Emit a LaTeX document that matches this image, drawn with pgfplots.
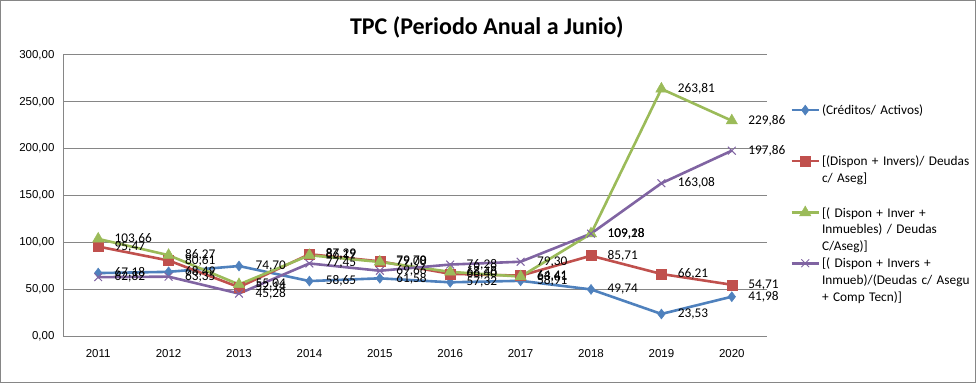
\documentclass[border=0pt]{standalone}
\usepackage{pgfplots}
\pgfplotsset{compat=1.18}
\usepackage{fontspec}
\setmainfont{Carlito}
\newfontfamily\tickfont{Liberation Sans}
\definecolor{cBlue}{HTML}{4F81BD}
\definecolor{cRed}{HTML}{C0504D}
\definecolor{cGreen}{HTML}{9BBB59}
\definecolor{cPurple}{HTML}{8064A2}
\definecolor{cGrid}{HTML}{868686}
\begin{document}
\begin{tikzpicture}
\useasboundingbox (0,0) rectangle (976bp,383bp);
\draw[cGrid, line width=1bp] (0.5bp,0.5bp) rectangle (975.5bp,382.5bp);
\begin{axis}[
  at={(63bp,47bp)}, anchor=south west,
  scale only axis, width=704bp, height=281bp,
  xmin=0.5, xmax=10.5, ymin=0, ymax=300,
  xtick={1,...,10},
  xticklabels={2011,2012,2013,2014,2015,2016,2017,2018,2019,2020},
  ytick={0,50,...,300},
  yticklabel style={font=\tickfont\fontsize{11.5bp}{13bp}\selectfont, xshift=-5bp, /pgf/number format/.cd, fixed, fixed zerofill, precision=2, use comma, 1000 sep={}, assume math mode=true},
  xticklabel style={font=\tickfont\fontsize{11.5bp}{13bp}\selectfont, yshift=-10bp},
  major tick length=0pt,
  axis x line*=bottom, axis y line*=left,
  axis line style={-, draw=cGrid, line width=1bp},
  ymajorgrids, grid style={draw=cGrid, line width=1bp},
  clip=false,
  title={\textbf{TPC (Periodo Anual a Junio)}},
  title style={at={(axis description cs:0.602,1.076)}, anchor=center, font=\fontsize{24bp}{28bp}\selectfont},
  every axis plot/.append style={line width=2.6bp},
  nodes near coords={\pgfmathprintnumber[fixed,fixed zerofill,precision=2,use comma,assume math mode=true]{\pgfplotspointmeta}},
  point meta=y,
  every node near coord/.append style={anchor=west, xshift=13bp, text=black, font=\fontsize{13.3bp}{15bp}\selectfont, line width=0.4pt},
  legend image code/.code={\draw[mark repeat=2,mark phase=2] plot coordinates {(0bp,4.5bp) (13.5bp,4.5bp) (27bp,4.5bp)};},
  legend cell align=left,
  legend style={draw=none, fill=none, at={(axis description cs:1.033,0.824)}, anchor=north west, inner sep=0pt, row sep=0pt, column sep=0bp,
    nodes={text width=150bp, align=left, text height=10bp, text depth=40.7bp, inner ysep=0pt, inner xsep=2bp, anchor=base west, font=\fontsize{13.3bp}{16.7bp}\selectfont}},
]
\addplot[color=cBlue, mark=diamond*, mark size=5bp, mark options={solid, line width=0.5bp}] coordinates {
(1,67.18) (2,68.49) (3,74.70) (4,58.65) (5,61.58) (6,57.32) (7,58.91) (8,49.74) (9,23.53) (10,41.98)};
\addlegendentry{(Créditos/ Activos)}
\addplot[color=cRed, mark=square*, mark size=5bp, mark options={solid, line width=0.5bp}] coordinates {
(1,95.47) (2,80.61) (3,52.14) (4,87.29) (5,79.70) (6,66.40) (7,64.41) (8,85.71) (9,66.21) (10,54.71)};
\addlegendentry{[(Dispon + Invers)/ Deudas\\c/ Aseg]}
\addplot[color=cGreen, mark=triangle*, mark size=6.5bp, mark options={solid, line width=0.5bp}] coordinates {
(1,103.66) (2,86.27) (3,55.04) (4,86.19) (5,79.08) (6,68.48) (7,63.41) (8,109.18) (9,263.81) (10,229.86)};
\addlegendentry{[( Dispon + Inver +\\Inmuebles) / Deudas\\C/Aseg)]}
\addplot[color=cPurple, mark=x, mark size=5.5bp, mark options={solid, line width=1bp}] coordinates {
(1,62.82) (2,63.35) (3,45.28) (4,77.45) (5,69.66) (6,76.28) (7,79.30) (8,109.28) (9,163.08) (10,197.86)};
\addlegendentry{[( Dispon + Invers +\\Inmueb)/(Deudas c/ Asegu\\+ Comp Tecn)]}
\end{axis}
\end{tikzpicture}
\end{document}
